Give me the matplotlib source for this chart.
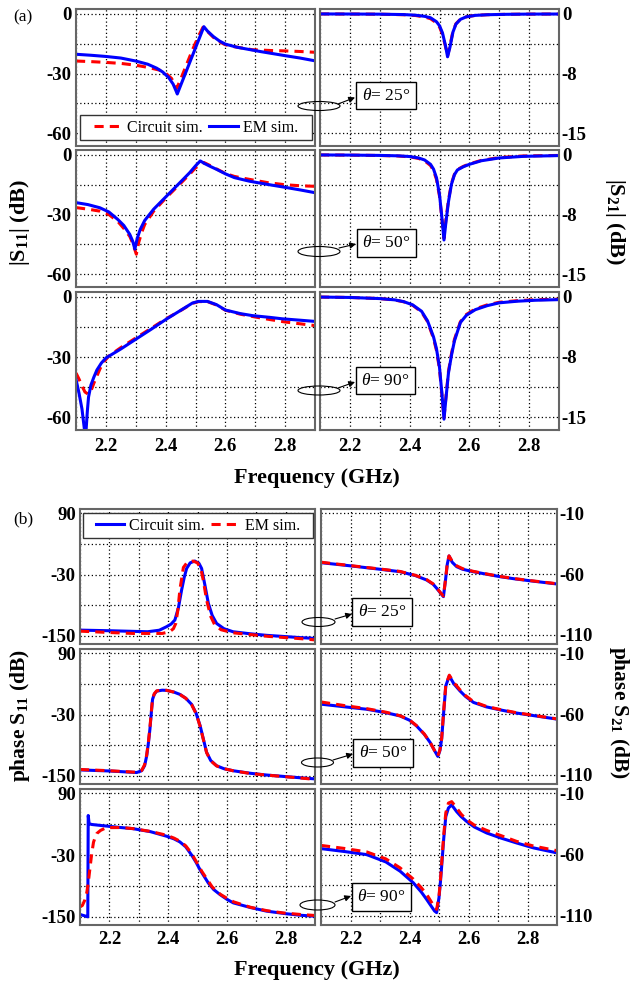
import matplotlib
matplotlib.use("Agg")
import matplotlib.pyplot as plt
from matplotlib.patches import Ellipse, Rectangle, FancyArrowPatch
from matplotlib.ticker import MultipleLocator, FixedLocator, FormatStrFormatter

plt.rcParams["font.family"] = ["Liberation Serif", "DejaVu Serif"]
plt.rcParams["font.weight"] = "bold"
plt.rcParams["axes.unicode_minus"] = False
plt.rcParams["mathtext.fontset"] = "custom"
plt.rcParams["mathtext.rm"] = "Liberation Serif:bold"
plt.rcParams["mathtext.it"] = "Liberation Serif:style=italic:weight=normal"
plt.rcParams["mathtext.bf"] = "Liberation Serif:bold"

W, H = 632, 985

# ---------------- (a) |S11| in dB ----------------
f_s11_25_cir = [2.10, 2.15, 2.20, 2.25, 2.30, 2.34, 2.38, 2.40, 2.42, 2.437, 2.45, 2.47, 2.49,
                2.51, 2.525, 2.54, 2.56, 2.58, 2.60, 2.63, 2.69, 2.75, 2.80, 2.85, 2.90]
s11_25_cir = [-23.7, -24.0, -24.4, -24.9, -25.8, -26.9, -28.3, -29.8, -32.5, -37.5, -33.0, -25.5, -18.0,
              -11.2, -6.7, -8.8, -11.8, -14.0, -15.5, -16.5, -18.0, -18.4, -18.6, -18.9, -19.3]
f_s11_25_em = [2.10, 2.15, 2.20, 2.25, 2.30, 2.34, 2.37, 2.39, 2.41, 2.425, 2.435, 2.439, 2.45, 2.47, 2.49,
               2.51, 2.52, 2.528, 2.54, 2.56, 2.58, 2.60, 2.64, 2.68, 2.72, 2.76, 2.80, 2.85, 2.90]
s11_25_em = [-20.3, -20.8, -21.4, -22.2, -23.7, -25.3, -27.3, -29.2, -32.0, -35.3, -38.8, -40.3, -36.1, -28.5, -20.9,
             -13.3, -9.5, -6.4, -8.6, -11.4, -13.6, -15.2, -16.8, -17.9, -19.0, -20.0, -21.0, -22.2, -23.6]

f_s11_50_cir = [2.10, 2.14, 2.18, 2.21, 2.24, 2.26, 2.28, 2.29, 2.302, 2.31, 2.32, 2.33, 2.36, 2.40,
                2.45, 2.48, 2.50, 2.528, 2.55, 2.57, 2.60, 2.63, 2.67, 2.74, 2.80, 2.85, 2.90]
s11_50_cir = [-26.5, -27.3, -28.3, -30.0, -33.5, -37.0, -41.0, -44.5, -50.0, -44.0, -39.0, -35.0, -28.3, -21.8,
              -14.3, -9.8, -6.5, -3.8, -5.4, -7.0, -9.3, -10.8, -12.0, -13.9, -15.0, -15.5, -15.8]
f_s11_50_em = [2.10, 2.14, 2.18, 2.21, 2.24, 2.26, 2.28, 2.29, 2.297, 2.305, 2.315, 2.33, 2.36, 2.40,
               2.45, 2.48, 2.50, 2.516, 2.53, 2.55, 2.57, 2.60, 2.63, 2.68, 2.74, 2.80, 2.85, 2.90]
s11_50_em = [-24.0, -25.0, -26.6, -28.7, -32.5, -35.5, -40.0, -43.5, -47.4, -42.0, -37.5, -33.0, -27.3, -21.2,
             -13.6, -9.0, -5.5, -3.0, -4.3, -5.8, -7.2, -9.5, -11.4, -13.2, -14.8, -16.3, -17.6, -19.0]

f_s11_90_cir = [2.10, 2.11, 2.12, 2.13, 2.141, 2.15, 2.16, 2.17, 2.18, 2.19, 2.21, 2.25, 2.30, 2.35,
                2.40, 2.45, 2.49, 2.51, 2.54, 2.57, 2.60, 2.65, 2.70, 2.75, 2.80, 2.85, 2.90]
s11_90_cir = [-38.0, -41.0, -44.5, -47.5, -48.6, -47.0, -43.0, -39.5, -36.0, -33.0, -29.5, -25.3, -20.5, -15.8,
              -11.0, -6.8, -3.2, -2.3, -2.3, -4.0, -6.6, -8.6, -10.0, -11.3, -12.5, -13.4, -14.3]
f_s11_90_em = [2.10, 2.11, 2.12, 2.128, 2.131, 2.134, 2.138, 2.142, 2.15, 2.16, 2.17, 2.185, 2.20, 2.25, 2.29,
               2.35, 2.40, 2.45, 2.49, 2.51, 2.54, 2.57, 2.60, 2.65, 2.69, 2.75, 2.79, 2.85, 2.90]
s11_90_em = [-41.2, -48.0, -56.0, -66.0, -72.0, -66.0, -57.0, -50.0, -44.0, -40.0, -36.5, -33.0, -30.5, -26.0, -22.1,
             -16.3, -11.3, -6.7, -3.0, -2.2, -2.2, -3.8, -6.5, -8.3, -9.3, -10.2, -10.9, -11.6, -12.2]

# ---------------- (a) |S21| in dB ----------------
f_s21_25 = [2.10, 2.20, 2.30, 2.38, 2.42, 2.45, 2.47, 2.49, 2.50, 2.51, 2.52, 2.527, 2.535, 2.545,
            2.555, 2.57, 2.59, 2.62, 2.66, 2.72, 2.80, 2.90]
s21_25_cir = [-0.02, -0.03, -0.05, -0.12, -0.22, -0.40, -0.62, -1.15, -1.65, -2.60, -4.10, -5.30, -4.00, -2.20,
              -1.25, -0.68, -0.38, -0.20, -0.12, -0.07, -0.04, -0.03]
s21_25_em = [-0.02, -0.03, -0.05, -0.10, -0.18, -0.32, -0.50, -1.00, -1.50, -2.40, -4.00, -5.40, -4.20, -2.30,
             -1.30, -0.70, -0.38, -0.20, -0.12, -0.07, -0.04, -0.03]

f_s21_50 = [2.10, 2.20, 2.30, 2.36, 2.40, 2.43, 2.45, 2.47, 2.48, 2.49, 2.50, 2.507, 2.515, 2.522,
            2.53, 2.54, 2.55, 2.56, 2.58, 2.60, 2.64, 2.70, 2.78, 2.90]
s21_50_cir = [-0.02, -0.04, -0.09, -0.15, -0.26, -0.46, -0.75, -1.35, -2.00, -3.10, -5.20, -7.60, -10.50, -8.00,
              -5.70, -3.60, -2.45, -1.85, -1.45, -1.15, -0.70, -0.35, -0.15, -0.08]
s21_50_em = [-0.02, -0.04, -0.08, -0.13, -0.22, -0.40, -0.65, -1.20, -1.80, -2.90, -5.00, -7.50, -10.70, -8.30,
             -5.90, -3.70, -2.50, -1.90, -1.50, -1.20, -0.75, -0.40, -0.20, -0.10]

f_s21_90 = [2.10, 2.20, 2.30, 2.35, 2.38, 2.41, 2.44, 2.46, 2.48, 2.49, 2.50, 2.508, 2.515, 2.522,
            2.53, 2.54, 2.55, 2.57, 2.59, 2.62, 2.66, 2.70, 2.76, 2.82, 2.90]
s21_90_cir = [-0.03, -0.08, -0.22, -0.40, -0.62, -1.05, -1.90, -3.10, -5.20, -6.70, -9.00, -12.20, -15.10, -12.30,
              -9.30, -7.10, -5.30, -3.10, -2.20, -1.50, -1.00, -0.68, -0.48, -0.37, -0.30]
s21_90_em = [-0.03, -0.08, -0.22, -0.38, -0.60, -1.00, -1.80, -3.00, -5.00, -6.50, -8.80, -12.00, -15.25, -12.50,
             -9.50, -7.30, -5.50, -3.20, -2.30, -1.60, -1.10, -0.75, -0.55, -0.43, -0.35]

# ---------------- (b) phase S11 ----------------
f_p11_25_cir = [2.10, 2.20, 2.30, 2.33, 2.37, 2.395, 2.41, 2.423, 2.435, 2.446, 2.455, 2.463, 2.475, 2.491,
                2.505, 2.514, 2.525, 2.537, 2.55, 2.565, 2.59, 2.621, 2.68, 2.735, 2.80, 2.85, 2.90]
p11_25_cir = [-138.8, -140.0, -141.5, -142.0, -139.0, -132.0, -127.0, -119.0, -95.0, -60.0, -35.0, -18.0, -7.0, -3.5,
              -8.0, -18.0, -50.0, -86.5, -110.0, -125.7, -136.0, -142.0, -146.0, -149.0, -151.5, -153.5, -155.0]
f_p11_25_em = [2.10, 2.20, 2.28, 2.38, 2.405, 2.418, 2.426, 2.433, 2.44, 2.452, 2.465, 2.485, 2.50,
               2.512, 2.52, 2.531, 2.545, 2.559, 2.58, 2.62, 2.68, 2.74, 2.80, 2.85, 2.90]
p11_25_em = [-140.8, -143.5, -145.3, -145.3, -142.0, -136.0, -125.7, -100.0, -60.0, -16.0, -6.0, -3.5, -7.0,
             -20.0, -42.0, -80.0, -112.0, -129.0, -138.0, -144.0, -147.5, -151.0, -153.5, -155.5, -158.0]

f_p11_50 = [2.10, 2.20, 2.293, 2.31, 2.32, 2.327, 2.333, 2.338, 2.343, 2.347, 2.353, 2.361, 2.38, 2.395, 2.42, 2.44,
            2.46, 2.48, 2.495, 2.509, 2.52, 2.531, 2.545, 2.565, 2.59, 2.621, 2.68, 2.735, 2.80, 2.85, 2.90]
p11_50_cir = [-138.4, -140.5, -143.5, -140.0, -130.0, -111.0, -85.0, -58.7, -25.0, 0.0, 10.0, 16.0, 17.8, 17.4, 14.0, 9.6,
              2.0, -10.0, -27.0, -52.0, -78.0, -104.0, -120.0, -130.3, -136.0, -140.0, -145.0, -148.4, -151.5, -153.8, -156.0]
p11_50_em = [-137.5, -140.0, -143.0, -139.5, -128.0, -109.0, -83.0, -56.0, -23.0, 1.0, 11.0, 16.5, 18.0, 17.5, 14.0, 9.5,
             2.0, -10.5, -28.0, -53.0, -79.0, -104.5, -120.5, -130.5, -136.0, -140.0, -145.5, -148.5, -151.8, -154.2, -157.0]

f_p11_90_cir = [2.10, 2.115, 2.125, 2.1265, 2.128, 2.131, 2.14, 2.18, 2.24, 2.28, 2.34, 2.395, 2.42, 2.44,
                2.46, 2.48, 2.495, 2.509, 2.537, 2.555, 2.577, 2.60, 2.622, 2.68, 2.735, 2.80, 2.85, 2.90]
p11_90_cir = [-145.6, -148.0, -150.0, -150.0, 47.0, 31.0, 29.5, 27.0, 23.5, 21.4, 15.5, 6.6, 1.5, -4.4,
              -14.0, -30.0, -44.0, -58.9, -84.5, -97.0, -107.0, -116.0, -123.0, -132.0, -139.0, -144.0, -147.0, -149.0]
f_p11_90_em = [2.10, 2.108, 2.116, 2.123, 2.128, 2.134, 2.14, 2.146, 2.152, 2.157, 2.17, 2.19, 2.24, 2.28, 2.34, 2.395,
               2.42, 2.44, 2.46, 2.48, 2.50, 2.515, 2.53, 2.55, 2.577, 2.60, 2.623, 2.68, 2.735, 2.79, 2.85, 2.90]
p11_90_em = [-130.8, -128.0, -118.0, -103.0, -84.5, -55.0, -26.7, -5.0, 5.0, 11.8, 18.0, 23.4, 23.5, 21.5, 16.0, 8.5,
             3.0, -3.0, -12.0, -27.0, -47.0, -62.0, -74.9, -92.0, -106.0, -114.0, -121.0, -131.5, -138.0, -142.4, -145.5, -147.5]

# ---------------- (b) phase S21 ----------------
f_p21_25 = [2.10, 2.20, 2.30, 2.368, 2.42, 2.458, 2.48, 2.492, 2.505, 2.515, 2.522, 2.528, 2.534, 2.545,
            2.56, 2.58, 2.616, 2.66, 2.707, 2.76, 2.82, 2.90]
p21_25_cir = [-50.6, -53.2, -56.0, -58.0, -61.2, -64.8, -68.3, -71.6, -75.5, -78.5, -65.0, -52.0, -45.1, -50.3,
              -53.9, -56.0, -58.0, -60.0, -62.1, -64.0, -65.8, -68.1]
p21_25_em = [-50.2, -53.0, -55.8, -57.8, -61.0, -64.5, -68.0, -71.3, -75.2, -78.0, -64.5, -51.5, -45.0, -49.5,
             -53.2, -55.5, -57.7, -59.8, -61.9, -63.8, -65.6, -67.9]

f_p21_50 = [2.10, 2.18, 2.255, 2.32, 2.368, 2.40, 2.424, 2.45, 2.47, 2.485, 2.496, 2.503, 2.509, 2.516,
            2.523, 2.535, 2.55, 2.571, 2.59, 2.617, 2.66, 2.707, 2.76, 2.82, 2.90]
p21_50_cir = [-51.8, -54.0, -56.0, -58.8, -61.5, -65.0, -69.7, -76.5, -83.3, -90.0, -94.7, -90.0, -80.5, -58.0,
              -36.8, -28.6, -35.0, -40.9, -45.5, -50.4, -54.0, -56.5, -59.0, -61.2, -64.1]
p21_50_em = [-50.0, -53.0, -55.5, -58.4, -61.3, -64.8, -69.5, -76.3, -83.2, -90.0, -94.5, -89.5, -80.0, -57.0,
             -36.0, -28.0, -34.0, -40.0, -44.8, -49.8, -53.6, -56.2, -58.7, -61.0, -63.9]

f_p21_90 = [2.10, 2.18, 2.255, 2.32, 2.368, 2.413, 2.44, 2.458, 2.475, 2.485, 2.492, 2.50, 2.505, 2.509,
            2.516, 2.523, 2.532, 2.543, 2.56, 2.575, 2.594, 2.62, 2.662, 2.71, 2.763, 2.82, 2.90]
p21_90_cir = [-55.1, -57.5, -60.0, -66.0, -73.5, -83.0, -90.5, -96.5, -102.5, -106.0, -107.3, -95.0, -82.0, -69.5,
              -47.0, -29.0, -22.0, -19.5, -25.0, -29.0, -33.0, -37.5, -42.4, -46.5, -50.5, -54.5, -58.6]
p21_90_em = [-52.5, -55.0, -57.8, -63.5, -70.8, -80.0, -87.0, -92.4, -99.0, -103.0, -104.6, -94.0, -80.0, -67.0,
             -44.0, -26.0, -18.0, -16.8, -22.0, -27.0, -31.6, -36.0, -40.3, -44.5, -49.2, -53.0, -56.8]

thetas = ["25", "50", "90"]

red_dash = dict(color="#ff0000", linestyle=(0, (3, 2)), linewidth=2.2)
blue_line = dict(color="#0000ff", linestyle="-", linewidth=2.2)

fig = plt.figure(figsize=(W / 100, H / 100), dpi=100)


def fp(x, y):
    # pixel position (from top-left) -> figure fraction
    return (x / W, 1 - y / H)


def add_ax(xs, ys):
    return fig.add_axes([xs[0] / W, 1 - ys[1] / H, (xs[1] - xs[0]) / W, (ys[1] - ys[0]) / H])


def style_ax(ax, ylim, major, minor, right, bottom, xpad):
    ax.set_xlim(2.1, 2.9)
    ax.set_ylim(*ylim)
    ax.xaxis.set_major_locator(FixedLocator([2.2, 2.4, 2.6, 2.8]))
    ax.xaxis.set_minor_locator(MultipleLocator(0.1))
    ax.xaxis.set_major_formatter(FormatStrFormatter("%.1f"))
    ax.yaxis.set_major_locator(FixedLocator(major))
    ax.yaxis.set_minor_locator(FixedLocator(minor))
    ax.yaxis.set_major_formatter(FormatStrFormatter("%.0f"))
    ax.grid(which="both", color="black", linestyle=(0, (1, 2)), linewidth=0.9)
    ax.set_axisbelow(True)
    if right:
        ax.yaxis.tick_right()
    ax.tick_params(which="both", length=0, labelsize=13.5)
    ax.tick_params(axis="y", pad=2 if right else 3)
    ax.tick_params(axis="x", labelbottom=bottom, pad=xpad)
    for sp in ax.spines.values():
        sp.set_color("#666666")
        sp.set_linewidth(1.5)


def legend_box(ax, x0, y0, w, h, handles):
    ax.add_patch(Rectangle((x0, y0), w, h, transform=ax.transAxes, fc="white",
                           ec="#333333", lw=1, zorder=5))
    leg = ax.legend(handles=handles, loc="center", bbox_to_anchor=(x0 + w / 2, y0 + h / 2),
                    ncol=2, frameon=False, prop=dict(size=11.5, weight="normal"),
                    handlelength=1.8, handletextpad=0.3, columnspacing=0.4, borderaxespad=0)
    leg.set_zorder(6)


def theta_note(ell, ell_w, ell_h, arr_a, arr_b, box, theta):
    fig.add_artist(Ellipse(fp(*ell), ell_w / W, ell_h / H, transform=fig.transFigure,
                           fill=False, ec="black", lw=0.8))
    fig.add_artist(FancyArrowPatch(fp(*arr_a), fp(*arr_b), transform=fig.transFigure,
                                   arrowstyle="-|>", mutation_scale=9, lw=0.8, color="black",
                                   shrinkA=0, shrinkB=0))
    fig.text(*fp(*box), r"$\theta$= " + theta + "°", ha="center", va="center",
             fontsize=12.5, fontweight="normal",
             bbox=dict(boxstyle="square,pad=0.32", fc="white", ec="black", lw=1))


# ---------------- panel (a): magnitude ----------------
a_rows = [(9, 146), (150, 287), (292, 430)]
a_left, a_right = (76, 315), (320, 559)
a_s11 = [(f_s11_25_cir, s11_25_cir, f_s11_25_em, s11_25_em),
         (f_s11_50_cir, s11_50_cir, f_s11_50_em, s11_50_em),
         (f_s11_90_cir, s11_90_cir, f_s11_90_em, s11_90_em)]
a_s21 = [(f_s21_25, s21_25_cir, f_s21_25, s21_25_em),
         (f_s21_50, s21_50_cir, f_s21_50, s21_50_em),
         (f_s21_90, s21_90_cir, f_s21_90, s21_90_em)]

for i, ys in enumerate(a_rows):
    last = i == 2
    ax = add_ax(a_left, ys)
    fc, yc, fe, ye = a_s11[i]
    lc, = ax.plot(fc, yc, label="Circuit sim.", **red_dash)
    le, = ax.plot(fe, ye, label="EM sim.", **blue_line)
    style_ax(ax, (-66.5, 2.5), [0, -30, -60], [-15, -45], False, last, 6)
    if i == 0:
        legend_box(ax, 0.017, 0.044, 0.970, 0.182, [lc, le])

    ax = add_ax(a_right, ys)
    fc, yc, fe, ye = a_s21[i]
    ax.plot(fc, yc, **red_dash)
    ax.plot(fe, ye, **blue_line)
    style_ax(ax, (-16.6, 0.6), [0, -7.5, -15], [-3.75, -11.25], True, last, 6)

# ---------------- panel (b): phase ----------------
b_rows = [(509, 644), (649, 784), (789, 925)]
b_left, b_right = (80, 315), (321, 557)
b_p11 = [(f_p11_25_cir, p11_25_cir, f_p11_25_em, p11_25_em),
         (f_p11_50, p11_50_cir, f_p11_50, p11_50_em),
         (f_p11_90_cir, p11_90_cir, f_p11_90_em, p11_90_em)]
b_p21 = [(f_p21_25, p21_25_cir, f_p21_25, p21_25_em),
         (f_p21_50, p21_50_cir, f_p21_50, p21_50_em),
         (f_p21_90, p21_90_cir, f_p21_90, p21_90_em)]

for i, ys in enumerate(b_rows):
    last = i == 2
    ax = add_ax(b_left, ys)
    fc, yc, fe, ye = b_p11[i]
    lc, = ax.plot(fc, yc, label="Circuit sim.", **blue_line)
    le, = ax.plot(fe, ye, label="EM sim.", **red_dash)
    style_ax(ax, (-166, 98.5), [90, -30, -150], [30, -90], False, last, 4)
    if i == 0:
        legend_box(ax, 0.0115, 0.785, 0.980, 0.185, [lc, le])

    ax = add_ax(b_right, ys)
    fc, yc, fe, ye = b_p21[i]
    ax.plot(fc, yc, **blue_line)
    ax.plot(fe, ye, **red_dash)
    style_ax(ax, (-117.4, -6.5), [-10, -60, -110], [-35, -85], True, last, 4)

# ---------------- theta callouts ----------------
theta_note((319, 106), 42, 9, (338, 104), (355, 97.5), (386, 95.5), thetas[0])
theta_note((319, 251.5), 42, 10, (339, 248), (356, 244), (386.5, 243), thetas[1])
theta_note((319, 390.5), 42, 9, (338, 388), (355, 382), (385.5, 380.8), thetas[2])
theta_note((318.5, 622), 33, 9, (335, 619), (352, 614), (382, 612), thetas[0])
theta_note((317.5, 762.5), 32, 9, (333, 760), (353, 754), (383, 753), thetas[1])
theta_note((317.5, 905), 35, 10, (335, 902), (351, 896), (381.5, 897), thetas[2])

# ---------------- labels ----------------
fig.text(*fp(20, 222), "|S$_{11}$| (dB)", rotation=90, ha="center", va="center", fontsize=16)
fig.text(*fp(615, 222), "|S$_{21}$| (dB)", rotation=270, ha="center", va="center", fontsize=16)
fig.text(*fp(20, 716), "phase S$_{11}$ (dB)", rotation=90, ha="center", va="center", fontsize=15.5)
fig.text(*fp(619, 712), "phase S$_{21}$ (dB)", rotation=270, ha="center", va="center", fontsize=15.5)
fig.text(*fp(317, 478), "Frequency (GHz)", ha="center", va="center", fontsize=16)
fig.text(*fp(317, 970), "Frequency (GHz)", ha="center", va="center", fontsize=16)
fig.text(*fp(23, 17), "(a)", ha="center", va="center", fontsize=12.5, fontweight="normal")
fig.text(*fp(23, 519), "(b)", ha="center", va="center", fontsize=12.5, fontweight="normal")

fig.savefig("out.png", dpi=100)
